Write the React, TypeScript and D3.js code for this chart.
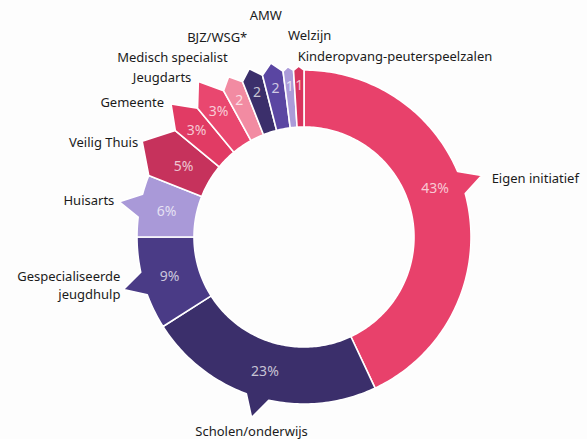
import * as d3 from 'd3';
import React from 'react';

// data
const categories = [
  'Eigen initiatief',
  'Scholen/onderwijs',
  'Gespecialiseerde jeugdhulp',
  'Huisarts',
  'Veilig Thuis',
  'Gemeente',
  'Jeugdarts',
  'Medisch specialist',
  'BJZ/WSG*',
  'AMW',
  'Welzijn',
  'Kinderopvang-peuterspeelzalen',
];
const values = [43, 23, 9, 6, 5, 3, 3, 2, 2, 2, 1, 1];
const valueLabels = ['43%', '23%', '9%', '6%', '5%', '3%', '3%', '2', '2', '2', '1', '1'];
const colors = [
  '#e8416b', '#3b2f6b', '#4a3b86', '#a999d8', '#c6325c', '#e13b64',
  '#e9476f', '#f28ba2', '#3b2f6b', '#5a46a2', '#ab9bd9', '#d8345e',
];

// label placement relative to the arrow tip: [dx, dy, anchor]
const labelLayout: [number, number, string][] = [
  [10, 8, 'start'],
  [0, 18, 'middle'],
  [-3, -8, 'end'],
  [-5, 3, 'end'],
  [-4, 6, 'end'],
  [-7, 3, 'end'],
  [-7, 0, 'end'],
  [-1, -15, 'end'],
  [-2, -27, 'end'],
  [-5, -43, 'middle'],
  [0, -27, 'start'],
  [-1, -5, 'start'],
];

const W = 587;
const H = 439;
const cx = 304;
const cy = 237;
const rIn = 110;
const rOut = 167;
const deg = Math.PI / 180;

const pt = (a: number, r: number): [number, number] => [cx + r * Math.sin(a), cy - r * Math.cos(a)];

const arcPts = (a0: number, a1: number, r: number) => {
  const n = Math.max(2, Math.ceil(Math.abs(a1 - a0) / (1 * deg)));
  return d3.range(n + 1).map(i => pt(a0 + ((a1 - a0) * i) / n, r));
};

const App: React.FC = () => {
  const pie = d3.pie<number>().sort(null).value(d => d);
  const arcs = pie(values);

  const shapes = arcs.map((a, i) => {
    const v = values[i];
    const mid = (a.startAngle + a.endAngle) / 2 + (i === 0 ? -6.5 * deg : 0);
    const tipR = v >= 3 ? 188 : v === 2 ? 177 : 171;
    const tip = pt(mid, tipR);
    let outer: [number, number][];
    if (v >= 6) {
      const h = 4 * deg;
      outer = [...arcPts(a.startAngle, mid - h, rOut), tip, ...arcPts(mid + h, a.endAngle, rOut)];
    } else {
      outer = [pt(a.startAngle, rOut), tip, pt(a.endAngle, rOut)];
    }
    const inner = arcPts(a.endAngle, a.startAngle, rIn);
    const points = [...outer, ...inner];
    const path = (d3.line() as any).curve(d3.curveLinearClosed)(points);
    const labelAngle = (a.startAngle + a.endAngle) / 2 + (i === 0 ? -8 * deg : 0);
    const labelR = v >= 5 ? 140 : 152;
    const lp = pt(labelAngle, labelR);
    return { path, tip, lp, i };
  });

  return (
    <svg width={W} height={H} style={{ position: 'absolute', left: 0, top: 0, background: '#fdfdfd' }}
      fontFamily="'Noto Sans', sans-serif">
      {shapes.map(s => (
        <path key={'p' + s.i} d={s.path} fill={colors[s.i]} stroke="#ffffff" strokeWidth={1.6} strokeLinejoin="round" />
      ))}
      {shapes.map(s => (
        <text key={'v' + s.i} x={s.lp[0]} y={s.lp[1]} dy="0.36em" textAnchor="middle"
          fontSize={14} fill="#ffffff" fillOpacity={0.72}>
          {valueLabels[s.i]}
        </text>
      ))}
      {shapes.flatMap(s => {
        const [dx, dy, anchor] = labelLayout[s.i];
        const name = categories[s.i];
        const x = s.tip[0] + dx;
        const y = s.tip[1] + dy;
        const lines = name === 'Gespecialiseerde jeugdhulp' ? ['Gespecialiseerde', 'jeugdhulp'] : [name];
        return lines.map((line, k) => (
          <text key={'l' + s.i + '-' + k} x={x} y={y + k * 18} textAnchor={anchor} fontSize={13} fill="#1b1b1b">
            {line}
          </text>
        ));
      })}
    </svg>
  );
};

export default App;
